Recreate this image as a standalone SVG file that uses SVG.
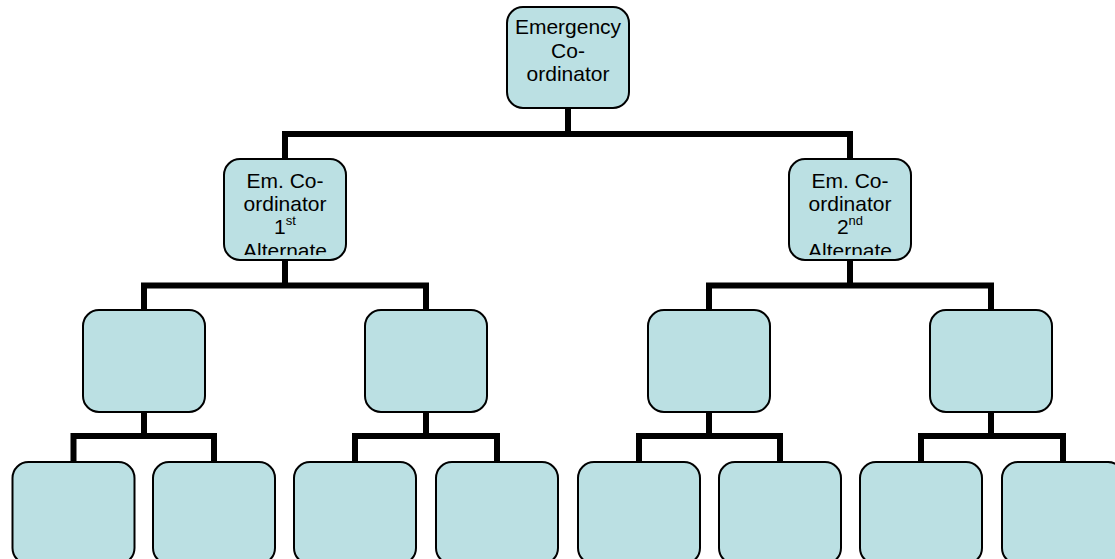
<svg xmlns="http://www.w3.org/2000/svg" width="1115" height="559" viewBox="0 0 1115 559">
<style>
.box{fill:#BBE0E3;stroke:#000;stroke-width:2}
.conn{fill:none;stroke:#000;stroke-width:6;stroke-linejoin:miter;stroke-linecap:square}
.t{font-family:"Liberation Sans",Arial,sans-serif;font-size:21px;fill:#000;text-anchor:middle}
.sup{font-size:13px}
</style>
<defs>
<clipPath id="c2l"><rect x="225" y="160" width="121" height="95"/></clipPath>
<clipPath id="c2r"><rect x="790" y="160" width="121" height="95"/></clipPath>
</defs>
<rect width="1115" height="559" fill="#fff"/>
<g id="connectors">
<path class="conn" d="M568,108 V134 M285,159 V134 H850 V159"/>
<path class="conn" d="M285,260 V285.5 M144,310 V285.5 H426 V310"/>
<path class="conn" d="M850,260 V285.5 M709,310 V285.5 H991 V310"/>
<path class="conn" d="M144,412 V436 M73.5,462 V436 H214 V462"/>
<path class="conn" d="M426,412 V436 M355,462 V436 H497 V462"/>
<path class="conn" d="M709,412 V436 M639,462 V436 H780 V462"/>
<path class="conn" d="M991,412 V436 M921,462 V436 H1063 V462"/>
</g>
<g id="n-top">
<rect class="box" x="507" y="7" width="122" height="101" rx="16"/>
<text class="t" x="568" y="34">Emergency</text>
<text class="t" x="568" y="57.5">Co-</text>
<text class="t" x="568" y="81">ordinator</text>
</g>
<g id="n-alt1">
<rect class="box" x="224" y="159" width="122" height="101" rx="16"/>
<g clip-path="url(#c2l)">
<text class="t" x="285" y="188">Em. Co-</text>
<text class="t" x="285" y="210.5">ordinator</text>
<text class="t" x="285" y="234">1<tspan class="sup" dy="-9">st</tspan></text>
<text class="t" x="285" y="257.5">Alternate</text>
</g>
</g>
<g id="n-alt2">
<rect class="box" x="789" y="159" width="122" height="101" rx="16"/>
<g clip-path="url(#c2r)">
<text class="t" x="850" y="188">Em. Co-</text>
<text class="t" x="850" y="210.5">ordinator</text>
<text class="t" x="850" y="234">2<tspan class="sup" dy="-9">nd</tspan></text>
<text class="t" x="850" y="257.5">Alternate</text>
</g>
</g>
<g id="n-l3-1"><rect class="box" x="83" y="310" width="122" height="102" rx="16"/></g>
<g id="n-l3-2"><rect class="box" x="365" y="310" width="122" height="102" rx="16"/></g>
<g id="n-l3-3"><rect class="box" x="648" y="310" width="122" height="102" rx="16"/></g>
<g id="n-l3-4"><rect class="box" x="930" y="310" width="122" height="102" rx="16"/></g>
<g id="n-leaf-1"><rect class="box" x="12.5" y="462" width="122" height="102" rx="16"/></g>
<g id="n-leaf-2"><rect class="box" x="153" y="462" width="122" height="102" rx="16"/></g>
<g id="n-leaf-3"><rect class="box" x="294" y="462" width="122" height="102" rx="16"/></g>
<g id="n-leaf-4"><rect class="box" x="436" y="462" width="122" height="102" rx="16"/></g>
<g id="n-leaf-5"><rect class="box" x="578" y="462" width="122" height="102" rx="16"/></g>
<g id="n-leaf-6"><rect class="box" x="719" y="462" width="122" height="102" rx="16"/></g>
<g id="n-leaf-7"><rect class="box" x="860" y="462" width="122" height="102" rx="16"/></g>
<g id="n-leaf-8"><rect class="box" x="1002" y="462" width="122" height="102" rx="16"/></g>
</svg>
